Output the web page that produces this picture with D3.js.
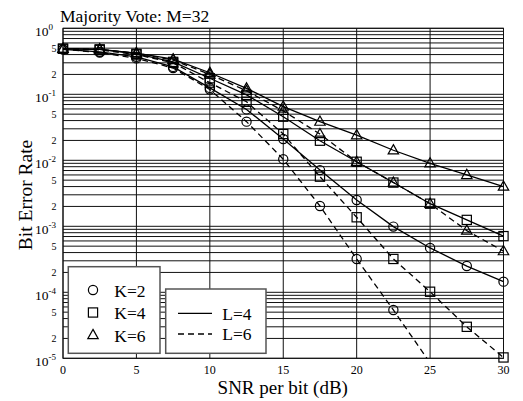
<!DOCTYPE html>
<html>
<head>
<meta charset="utf-8">
<script src="https://cdn.jsdelivr.net/npm/d3@7"></script>
<style>
  body { margin: 0; background: #fff; }
  text { font-family: "Liberation Serif", "Times New Roman", serif; fill: #000; }
</style>
</head>
<body>
<div id="chart"></div>
<script>
// SNR per bit (dB) at which every curve is sampled
const snr = [0, 2.5, 5, 7.5, 10, 12.5, 15, 17.5, 20, 22.5, 25, 27.5, 30];

// bit error rate
const k2L4 = [0.48, 0.44, 0.37, 0.26, 0.125, 0.059, 0.021, 0.0071, 0.0025, 0.00099, 0.00047, 0.00025, 0.000145];
const k2L6 = [0.48, 0.43, 0.35, 0.25, 0.118, 0.0385, 0.0104, 0.00203, 0.00032, 5.4e-5, 8.5e-6];
const k4L4 = [0.49, 0.48, 0.41, 0.31, 0.175, 0.098, 0.0458, 0.0198, 0.0095, 0.0046, 0.0022, 0.00125, 0.00071];
const k4L6 = [0.49, 0.47, 0.40, 0.30, 0.15, 0.077, 0.025, 0.00565, 0.00137, 0.00032, 1.02e-4, 3.0e-5, 1.03e-5];
const k6L4 = [0.49, 0.48, 0.42, 0.34, 0.212, 0.123, 0.065, 0.0385, 0.024, 0.0142, 0.009, 0.006, 0.004];
const k6L6 = [0.49, 0.48, 0.42, 0.33, 0.20, 0.113, 0.056, 0.025, 0.0095, 0.0046, 0.0022, 0.00086, 0.00042];

const xTicks = [0, 5, 10, 15, 20, 25, 30];
const decades = [-5, -4, -3, -2, -1, 0];
const minorLabels = [2, 5];
const kLabels = ["K=2", "K=4", "K=6"];
const lLabels = ["L=4", "L=6"];
const title = "Majority Vote: M=32";

const series = [
  { K: 0, L: 0, values: k2L4 },
  { K: 0, L: 1, values: k2L6 },
  { K: 1, L: 0, values: k4L4 },
  { K: 1, L: 1, values: k4L6 },
  { K: 2, L: 0, values: k6L4 },
  { K: 2, L: 1, values: k6L6 }
];

const W = 523, H = 401;
const margin = { top: 28.3, right: 19.5, bottom: 42.7, left: 63 };
const width = W - margin.left - margin.right;
const height = H - margin.top - margin.bottom;

const svg = d3.select("#chart").append("svg")
  .attr("width", W).attr("height", H);

const g = svg.append("g")
  .attr("transform", "translate(" + margin.left + "," + margin.top + ")");

const x = d3.scaleLinear().domain([0, 30]).range([0, width]);
const y = d3.scaleLog().domain([1e-5, 1]).range([height, 0]);

// grid: every 1..9 x decade horizontally, every 5 dB vertically
const hGrid = [];
decades.forEach(function(e) {
  if (e === 0) { hGrid.push(1); return; }
  for (let m = 1; m <= 9; m++) hGrid.push(m * Math.pow(10, e));
});

g.append("g").selectAll("line").data(hGrid).enter().append("line")
  .attr("x1", 0).attr("x2", width)
  .attr("y1", function(d) { return y(d); })
  .attr("y2", function(d) { return y(d); })
  .attr("stroke", "#111").attr("stroke-width", 1);

g.append("g").selectAll("line").data(xTicks).enter().append("line")
  .attr("x1", function(d) { return x(d); })
  .attr("x2", function(d) { return x(d); })
  .attr("y1", 0).attr("y2", height)
  .attr("stroke", "#111").attr("stroke-width", 1);

g.append("rect")
  .attr("width", width).attr("height", height)
  .attr("fill", "none").attr("stroke", "#111").attr("stroke-width", 1);

// x tick labels
g.append("g").selectAll("text").data(xTicks).enter().append("text")
  .attr("x", function(d) { return x(d); })
  .attr("y", height + 16)
  .attr("text-anchor", "middle")
  .style("font-size", "12px")
  .text(function(d) { return d; });

// y tick labels: 10^e at decades, small 2 and 5 in between
const yMajor = g.append("g").selectAll("text").data(decades).enter().append("text")
  .attr("x", -28)
  .attr("y", function(d) { return y(Math.pow(10, d)) + 7.4; })
  .style("font-size", "13.5px");
yMajor.append("tspan").text("10");
yMajor.append("tspan")
  .attr("dy", -6)
  .style("font-size", "9px")
  .text(function(d) { return d; });

const minorVals = [];
decades.forEach(function(e) {
  if (e === 0) return;
  minorLabels.forEach(function(m) { minorVals.push({ m: m, v: m * Math.pow(10, e) }); });
});
g.append("g").selectAll("text").data(minorVals).enter().append("text")
  .attr("x", -6.5)
  .attr("y", function(d) { return y(d.v); })
  .attr("dy", "0.35em")
  .attr("text-anchor", "end")
  .style("font-size", "10px")
  .text(function(d) { return d.m; });

// axis titles
svg.append("text")
  .attr("x", margin.left + x(15) - 0.5)
  .attr("y", 394)
  .attr("text-anchor", "middle")
  .style("font-size", "19px")
  .text("SNR per bit (dB)");

svg.append("text")
  .attr("transform", "translate(32,195) rotate(-90)")
  .attr("text-anchor", "middle")
  .style("font-size", "19.5px")
  .text("Bit Error Rate");

svg.append("text")
  .attr("x", 60).attr("y", 22.3)
  .style("font-size", "17.5px")
  .text(title);

// markers
function drawMarker(sel, k) {
  if (k === 0) {
    sel.append("circle").attr("r", 4.6);
  } else if (k === 1) {
    sel.append("rect").attr("x", -4.6).attr("y", -4.6).attr("width", 9.2).attr("height", 9.2);
  } else {
    sel.append("path").attr("d", "M0,-5.6L5.2,3.6L-5.2,3.6Z");
  }
}

// only the lines get clipped; markers at the frame stay whole
svg.append("clipPath").attr("id", "plotClip")
  .append("rect").attr("width", width).attr("height", height);

const plot = g.append("g").attr("clip-path", "url(#plotClip)");
const marks = g.append("g");

const line = d3.line()
  .x(function(d, i) { return x(snr[i]); })
  .y(function(d) { return y(d); });

series.forEach(function(s) {
  plot.append("path")
    .attr("d", line(s.values))
    .attr("fill", "none")
    .attr("stroke", "#000")
    .attr("stroke-width", 1.3)
    .attr("stroke-dasharray", s.L === 1 ? "6,4" : null);

  s.values.forEach(function(v, i) {
    if (v < y.domain()[0]) return; // below the plotted range
    const m = marks.append("g")
      .attr("transform", "translate(" + x(snr[i]) + "," + y(v) + ")")
      .attr("fill", "none").attr("stroke", "#000").attr("stroke-width", 1.2);
    drawMarker(m, s.K);
  });
});

// legend for K (marker shapes)
const legK = svg.append("g");
legK.append("rect")
  .attr("x", 68.3).attr("y", 266.7).attr("width", 91.7).attr("height", 86.6)
  .attr("fill", "#fff").attr("stroke", "#555").attr("stroke-width", 1.5);
kLabels.forEach(function(lab, i) {
  const cy = 290 + i * 22.5;
  const m = legK.append("g")
    .attr("transform", "translate(93," + cy + ")")
    .attr("fill", "none").attr("stroke", "#000").attr("stroke-width", 1.2);
  drawMarker(m, i);
  legK.append("text")
    .attr("x", 114.3).attr("y", cy + 6.5)
    .style("font-size", "17.5px")
    .text(lab);
});

// legend for L (line styles)
const legL = svg.append("g");
legL.append("rect")
  .attr("x", 165.7).attr("y", 289).attr("width", 100.3).attr("height", 64.3)
  .attr("fill", "#fff").attr("stroke", "#555").attr("stroke-width", 1.5);
lLabels.forEach(function(lab, i) {
  const cy = 313.3 + i * 20.7;
  legL.append("line")
    .attr("x1", 178).attr("x2", 212).attr("y1", cy).attr("y2", cy)
    .attr("stroke", "#000").attr("stroke-width", 1.3)
    .attr("stroke-dasharray", i === 1 ? "6,4" : null);
  legL.append("text")
    .attr("x", 222.3).attr("y", cy + 6.2)
    .style("font-size", "17.5px")
    .text(lab);
});
</script>
</body>
</html>
